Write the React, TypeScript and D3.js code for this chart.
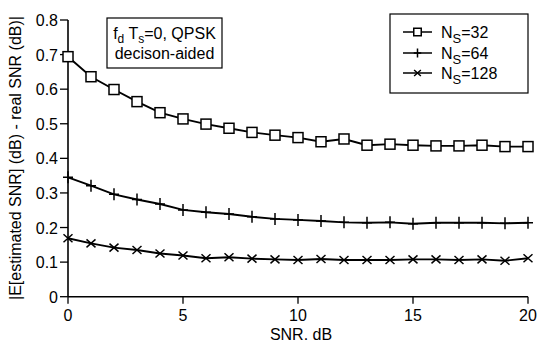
import React from "react";
import * as d3 from "d3";

const snr = [0, 1, 2, 3, 4, 5, 6, 7, 8, 9, 10, 11, 12, 13, 14, 15, 16, 17, 18, 19, 20];
const ns32 = [0.694, 0.636, 0.599, 0.564, 0.532, 0.514, 0.499, 0.487, 0.475, 0.467, 0.460, 0.448, 0.456, 0.438, 0.441, 0.438, 0.436, 0.436, 0.438, 0.434, 0.434];
const ns64 = [0.345, 0.321, 0.296, 0.281, 0.268, 0.251, 0.244, 0.239, 0.231, 0.225, 0.222, 0.219, 0.215, 0.214, 0.215, 0.211, 0.214, 0.214, 0.214, 0.212, 0.214];
const ns128 = [0.169, 0.154, 0.142, 0.135, 0.125, 0.119, 0.111, 0.114, 0.110, 0.108, 0.106, 0.109, 0.106, 0.106, 0.106, 0.108, 0.108, 0.106, 0.108, 0.104, 0.111];
const xTicks = [0, 5, 10, 15, 20];
const yTicks = [0, 0.1, 0.2, 0.3, 0.4, 0.5, 0.6, 0.7, 0.8];
const legendLabels = ["32", "64", "128"];

const W = 538, H = 343;
const FONT = "'Liberation Sans', Arial, Helvetica, sans-serif";

function Marker({ type, x, y, s = 1 }: { type: string; x: number; y: number; s?: number }) {
  if (type === "square") {
    return <rect x={x - 5 * s} y={y - 5 * s} width={10 * s} height={10 * s} fill="#fff" stroke="#000" strokeWidth={1.5} />;
  }
  if (type === "plus") {
    return <path d={`M${x - 5 * s},${y}H${x + 5 * s}M${x},${y - 6 * s}V${y + 6 * s}`} stroke="#000" strokeWidth={1.5} fill="none" />;
  }
  return <path d={`M${x - 4.5 * s},${y - 4 * s}L${x + 4.5 * s},${y + 4 * s}M${x - 4.5 * s},${y + 4 * s}L${x + 4.5 * s},${y - 4 * s}`} stroke="#000" strokeWidth={1.5} fill="none" />;
}

export default function App() {
  const x = d3.scaleLinear().domain([0, 20]).range([68, 528]);
  const y = d3.scaleLinear().domain([0, 0.8]).range([296.7, 20]);
  const line = d3.line<number>().x((_, i) => x(snr[i])).y((d) => y(d));
  const series = [
    { data: ns32, type: "square" },
    { data: ns64, type: "plus" },
    { data: ns128, type: "cross" },
  ];
  const legendX0 = 403, legendX1 = 432;
  const legendRows = [36, 57, 77];
  return (
    <svg width={W} height={H} style={{ position: "absolute", left: 0, top: 0, background: "#fff" }} fontFamily={FONT}>
      <rect x={0} y={0} width={W} height={H} fill="#fff" />
      {/* axes */}
      <line x1={x(0)} x2={x(20)} y1={y(0)} y2={y(0)} stroke="#000" strokeWidth={1.6} />
      <line x1={x(0)} x2={x(0)} y1={y(0)} y2={y(0.8)} stroke="#000" strokeWidth={1.6} />
      {xTicks.map((t) => (
        <g key={t}>
          <line x1={x(t)} x2={x(t)} y1={y(0)} y2={y(0) + 7} stroke="#000" strokeWidth={1.3} />
          <text x={x(t)} y={y(0) + 24} textAnchor="middle" fontSize={16}>{t}</text>
        </g>
      ))}
      {yTicks.map((t) => (
        <g key={t}>
          <line x1={x(0) - 8} x2={x(0)} y1={y(t)} y2={y(t)} stroke="#000" strokeWidth={1.3} />
          <text x={x(0) - 10} y={y(t) + 6} textAnchor="end" fontSize={16}>{t === 0 ? "0" : t.toFixed(1)}</text>
        </g>
      ))}
      <text x={301} y={340} textAnchor="middle" fontSize={16}>SNR. dB</text>
      <text transform={`translate(21,158) rotate(-90)`} textAnchor="middle" fontSize={16}>|E[estimated SNR] (dB) - real SNR (dB)|</text>
      {/* series */}
      {series.map((s, si) => (
        <g key={si}>
          <path d={line(s.data) || ""} fill="none" stroke="#000" strokeWidth={1.9} />
          {s.data.map((v, i) => (
            <Marker key={i} type={s.type} x={x(snr[i])} y={y(v)} />
          ))}
        </g>
      ))}
      {/* annotation box */}
      <rect x={107} y={18} width={115} height={50} fill="#fff" stroke="#000" strokeWidth={1.2} />
      <text x={164.5} y={39} textAnchor="middle" fontSize={16}>
        <tspan>f</tspan>
        <tspan fontSize={12} dy={4}>d</tspan>
        <tspan dy={-4}> T</tspan>
        <tspan fontSize={12} dy={4}>s</tspan>
        <tspan dy={-4}>=0, QPSK</tspan>
      </text>
      <text x={164.5} y={59} textAnchor="middle" fontSize={16}>decison-aided</text>
      {/* legend */}
      <rect x={390} y={14} width={138} height={79} fill="#fff" stroke="#000" strokeWidth={1.2} />
      {series.map((s, i) => (
        <g key={i}>
          <line x1={legendX0} x2={legendX1} y1={legendRows[i] - 4} y2={legendRows[i] - 4} stroke="#000" strokeWidth={1.5} />
          <Marker type={s.type} x={(legendX0 + legendX1) / 2} y={legendRows[i] - 4} s={0.75} />
          <text x={441} y={legendRows[i] + 2} fontSize={16}>
            <tspan>N</tspan>
            <tspan fontSize={13} dy={5}>S</tspan>
            <tspan dy={-5}>={legendLabels[i]}</tspan>
          </text>
        </g>
      ))}
    </svg>
  );
}
